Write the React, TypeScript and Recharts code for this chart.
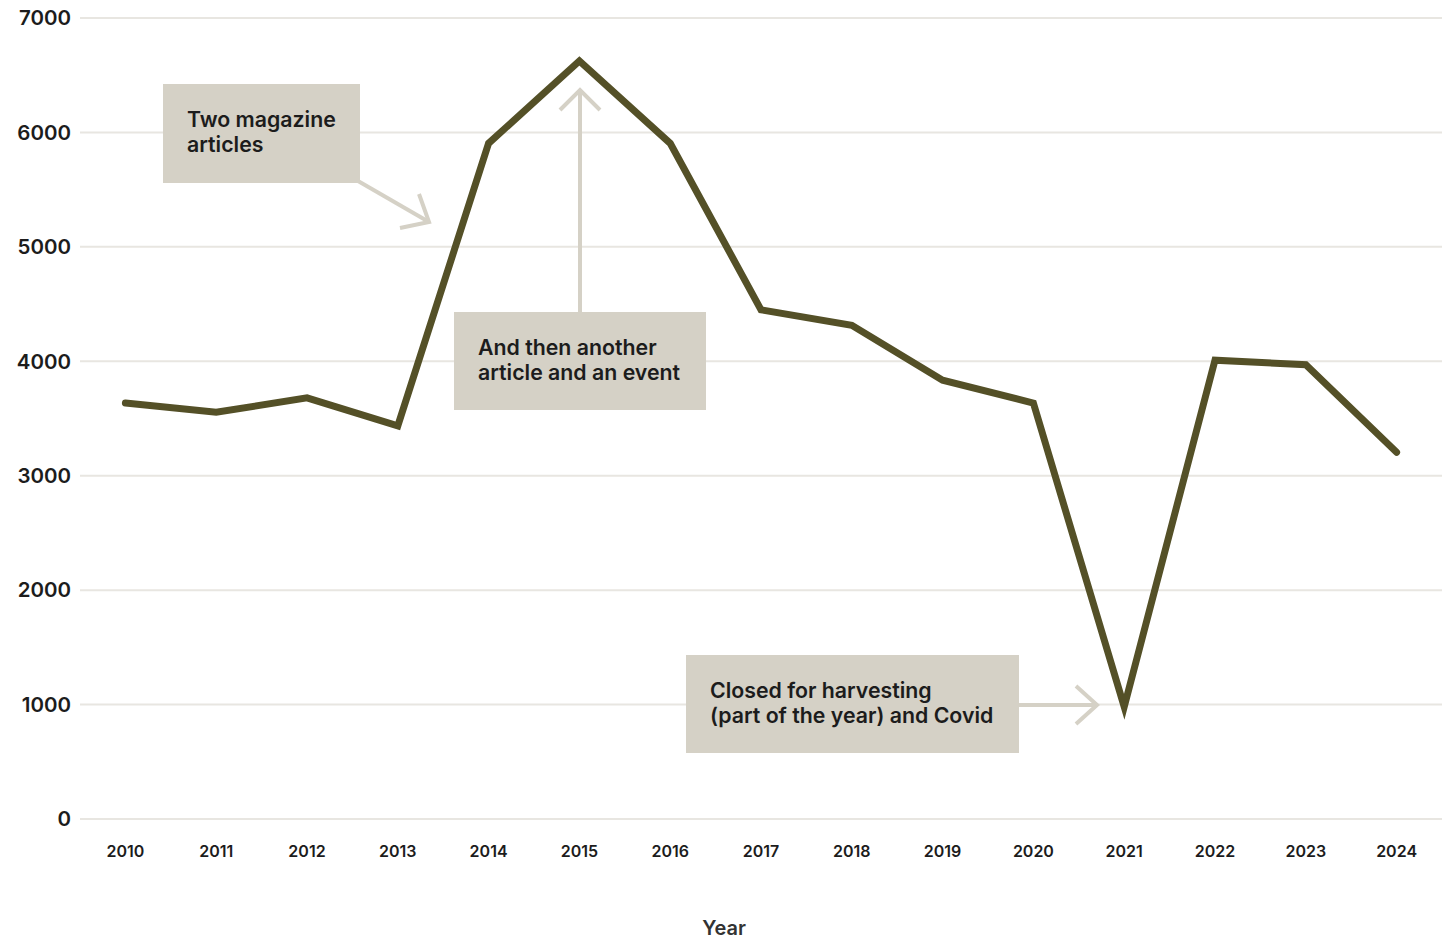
import React from 'react';
import { LineChart, Line, XAxis, YAxis, CartesianGrid } from 'recharts';

const years = ['2010','2011','2012','2013','2014','2015','2016','2017','2018','2019','2020','2021','2022','2023','2024'];
const visitors = [3635, 3555, 3680, 3435, 5905, 6625, 5905, 4450, 4315, 3835, 3635, 980, 4010, 3970, 3205];
const yTicks = [0, 1000, 2000, 3000, 4000, 5000, 6000, 7000];

const data = years.map((y, i) => ({ year: y, value: visitors[i] }));

const FONT = 'Inter, "Noto Sans", sans-serif';
const BOX = '#d5d1c6';
const TEXT = '#1c1c1c';

const Box = ({ x, y, w, h, lines }: { x: number; y: number; w: number; h: number; lines: string[] }) => (
  <g>
    <rect x={x} y={y} width={w} height={h} fill={BOX} />
    {lines.map((l, i) => (
      <text key={i} x={x + 24} y={y + 43 + i * 25} fontFamily={FONT} fontSize={21.3} fontWeight={600} fill={TEXT}>
        {l}
      </text>
    ))}
  </g>
);

export default function App() {
  return (
    <div style={{ position: 'absolute', left: 0, top: 0, width: 1450, height: 939 }}>
      <LineChart width={1450} height={939} data={data} margin={{ top: 18, right: 8, left: 0, bottom: 0 }}>
        <CartesianGrid vertical={false} stroke="#e8e6e1" strokeWidth={2} />
        <XAxis
          dataKey="year"
          height={120}
          axisLine={false}
          tickLine={false}
          tickSize={0}
          tickMargin={27}
          padding={{ left: 45.4, right: 45.4 }}
          tick={{ fontFamily: FONT, fontSize: 16, fontWeight: 600, fill: TEXT }}
        />
        <YAxis
          width={80}
          domain={[0, 7000]}
          ticks={yTicks}
          axisLine={false}
          tickLine={false}
          tickSize={0}
          tickMargin={9}
          tick={{ fontFamily: FONT, fontSize: 20.5, fontWeight: 600, fill: TEXT }}
        />
        <Line
          type="linear"
          dataKey="value"
          stroke="#545027"
          strokeWidth={7}
          strokeLinecap="round"
          dot={false}
          activeDot={false}
          isAnimationActive={false}
        />
      </LineChart>
      <svg width={1450} height={939} style={{ position: 'absolute', left: 0, top: 0, pointerEvents: 'none' }}>
        <g stroke={BOX} strokeWidth={4} fill="none">
          <line x1={358} y1={181} x2={429} y2={222} />
          <polyline points="419,194 429,222 400,228" />
          <line x1={580} y1={312} x2={580} y2={90} />
          <polyline points="560,110 580,90 600,110" />
          <line x1={1019} y1={705} x2={1097} y2={705} />
          <polyline points="1076,686 1097,705 1076,724" />
        </g>
        <Box x={163} y={84} w={197} h={99} lines={['Two magazine', 'articles']} />
        <Box x={454} y={312} w={252} h={98} lines={['And then another', 'article and an event']} />
        <Box x={686} y={655} w={333} h={98} lines={['Closed for harvesting', '(part of the year) and Covid']} />
        <text x={724} y={935} textAnchor="middle" fontFamily={FONT} fontSize={20} fontWeight={600} fill="#333">
          Year
        </text>
      </svg>
    </div>
  );
}
